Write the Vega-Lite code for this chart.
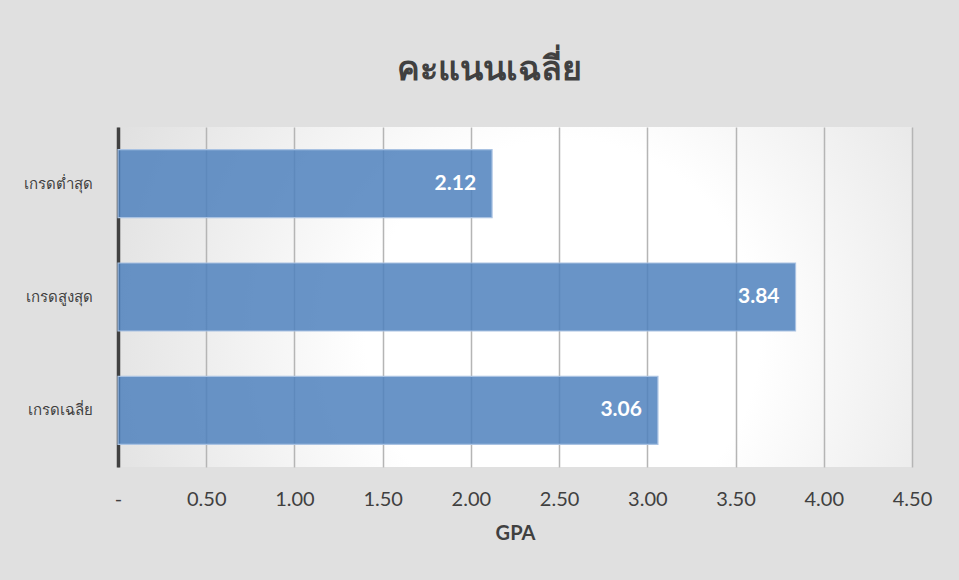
{
  "$schema": "https://vega.github.io/schema/vega-lite/v6.json",
  "autosize": "none",
  "width": 794,
  "height": 340,
  "padding": {"left": 118, "top": 127, "right": 47, "bottom": 113},
  "background": "#e0e0e0",
  "title": {
    "text": "คะแนนเฉลี่ย",
    "fontSize": 34,
    "fontWeight": "bold",
    "color": "#404040",
    "font": "Lato",
    "anchor": "middle",
    "frame": "group",
    "dx": -26,
    "offset": 40
  },
  "config": {
    "view": {
      "stroke": null,
      "fill": {
        "gradient": "radial",
        "x1": 0.56, "y1": 0.55, "r1": 0,
        "x2": 0.56, "y2": 0.55, "r2": 0.62,
        "stops": [
          {"offset": 0, "color": "#ffffff"},
          {"offset": 0.4, "color": "#ffffff"},
          {"offset": 1, "color": "#e0e0e0"}
        ]
      }
    },
    "axis": {"labelFont": "Lato", "titleFont": "Lato"}
  },
  "data": {
    "values": [
      {"category": "เกรดต่ำสุด", "gpa": 2.12},
      {"category": "เกรดสูงสุด", "gpa": 3.84},
      {"category": "เกรดเฉลี่ย", "gpa": 3.06}
    ]
  },
  "encoding": {
    "y": {
      "field": "category",
      "type": "nominal",
      "sort": null,
      "scale": {"paddingInner": 0.4, "paddingOuter": 0.2},
      "axis": {
        "title": null,
        "domain": true,
        "domainColor": "#404040",
        "domainWidth": 3.5,
        "ticks": false,
        "labelPadding": 26,
        "labelFontSize": 15,
        "labelColor": "#404040",
        "grid": false
      }
    },
    "x": {
      "field": "gpa",
      "type": "quantitative",
      "scale": {"domain": [0, 4.5], "nice": false},
      "axis": {
        "title": "GPA",
        "titleFontSize": 20,
        "titleFontWeight": "bold",
        "titleColor": "#404040",
        "titlePadding": 14,
        "values": [0, 0.5, 1, 1.5, 2, 2.5, 3, 3.5, 4, 4.5],
        "labelExpr": "datum.value == 0 ? '-' : format(datum.value, '.2f')",
        "labelFontSize": 20,
        "labelColor": "#404040",
        "labelPadding": 22,
        "labelFlush": false,
        "ticks": false,
        "domain": false,
        "grid": true,
        "gridColor": "#b5b5b5",
        "gridWidth": 1.5
      }
    }
  },
  "layer": [
    {
      "mark": {
        "type": "bar",
        "color": "#4f81bd",
        "fillOpacity": 0.85,
        "stroke": "#a9c2e2",
        "strokeWidth": 1.2
      }
    },
    {
      "mark": {
        "type": "text",
        "align": "right",
        "baseline": "middle",
        "dx": -16,
        "fontSize": 21,
        "fontWeight": "bold",
        "font": "Lato",
        "color": "#ffffff"
      },
      "encoding": {
        "text": {"field": "gpa", "type": "quantitative", "format": ".2f"}
      }
    }
  ]
}
